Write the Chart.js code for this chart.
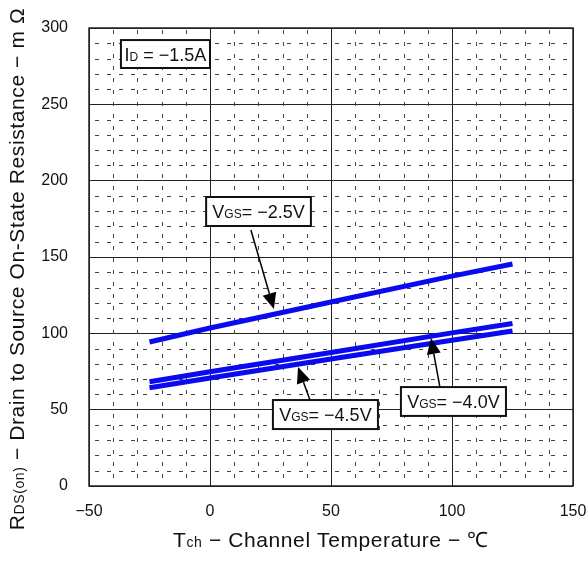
<!DOCTYPE html>
<html>
<head>
<meta charset="utf-8">
<script src="https://cdn.jsdelivr.net/npm/chart.js@4/dist/chart.umd.min.js"></script>
<style>
  html, body { margin: 0; padding: 0; background: #fff; }
  #wrap { width: 588px; height: 581px; position: relative; }
</style>
</head>
<body>
<div id="wrap"><canvas id="chart"></canvas></div>
<script>
// channel temperature (°C) sample points
const temps = [-25, 0, 50, 100, 125];
// RDS(on) in mΩ for each gate voltage
const vgs25 = [94.3, 103.5, 120.5, 137.5, 145.4];
const vgs40 = [68.3, 74.8, 87.5, 100.3, 106.5];
const vgs45 = [64.4, 70.8, 83.2, 95.5, 101.5];

const xTicks = [-50, 0, 50, 100, 150];
const yTicks = [0, 50, 100, 150, 200, 250, 300];

const FONT = "'Liberation Sans', Arial, sans-serif";

// callout boxes (data units) with arrows pointing at the curves
const callouts = [
  { parts: [['I', 18], ['D', 12], [' = −1.5A', 18]], box: [-36.8, 292.1, 0.0, 273.8] },
  { parts: [['V', 18], ['GS', 12], ['= −2.5V', 18]], box: [-1.6, 189.3, 41.7, 170.3], arrow: [16.9, 167.7, 26.4, 115.9] },
  { parts: [['V', 18], ['GS', 12], ['= −4.5V', 18]], box: [26.0, 56.3, 69.4, 37.3], arrow: [41.3, 56.3, 36.4, 77.9] },
  { parts: [['V', 18], ['GS', 12], ['= −4.0V', 18]], box: [78.9, 64.8, 122.3, 45.9], arrow: [95.0, 64.8, 91.3, 96.9] }
];

// draw text made of runs with different font sizes on one baseline
function drawRuns(ctx, parts, x, y) {
  let cx = x;
  parts.forEach(p => {
    ctx.font = p[1] + 'px ' + FONT;
    ctx.fillText(p[0], cx, y);
    cx += ctx.measureText(p[0]).width;
  });
}
function runsWidth(ctx, parts) {
  let w = 0;
  parts.forEach(p => {
    ctx.font = p[1] + 'px ' + FONT;
    w += ctx.measureText(p[0]).width;
  });
  return w;
}

// dashed minor grid every 10 units
const minorGrid = {
  id: 'minorGrid',
  beforeDatasetsDraw(chart) {
    const { ctx, chartArea: a, scales: { x, y } } = chart;
    ctx.save();
    ctx.strokeStyle = '#444';
    ctx.lineWidth = 1;
    ctx.setLineDash([4, 8]);
    for (let v = -40; v < 150; v += 10) {
      if (v % 50 === 0) continue;
      const px = Math.round(x.getPixelForValue(v)) + 0.5;
      ctx.beginPath();
      ctx.moveTo(px, a.top + 2);
      ctx.lineTo(px, a.bottom);
      ctx.stroke();
    }
    for (let v = 10; v < 300; v += 10) {
      if (v % 50 === 0) continue;
      const py = Math.round(y.getPixelForValue(v)) + 0.5;
      ctx.beginPath();
      ctx.lineDashOffset = -6;
      ctx.moveTo(a.left, py);
      ctx.lineTo(a.right, py);
      ctx.stroke();
    }
    ctx.restore();
  }
};

// callouts, frame and axis titles
const decorations = {
  id: 'decorations',
  afterDatasetsDraw(chart) {
    const { ctx, chartArea: a, scales: { x, y } } = chart;
    ctx.save();

    // plot frame
    ctx.strokeStyle = '#222';
    ctx.lineWidth = 1.5;
    ctx.strokeRect(a.left, a.top, a.right - a.left, a.bottom - a.top);

    callouts.forEach(c => {
      if (c.arrow) {
        const x1 = x.getPixelForValue(c.arrow[0]), y1 = y.getPixelForValue(c.arrow[1]);
        const x2 = x.getPixelForValue(c.arrow[2]), y2 = y.getPixelForValue(c.arrow[3]);
        const ang = Math.atan2(y2 - y1, x2 - x1);
        const len = 16, half = 7;
        const bx = x2 - len * Math.cos(ang), by = y2 - len * Math.sin(ang);
        ctx.strokeStyle = '#000';
        ctx.lineWidth = 1.5;
        ctx.beginPath();
        ctx.moveTo(x1, y1);
        ctx.lineTo(bx, by);
        ctx.stroke();
        ctx.fillStyle = '#000';
        ctx.beginPath();
        ctx.moveTo(x2, y2);
        ctx.lineTo(bx + half * Math.sin(ang), by - half * Math.cos(ang));
        ctx.lineTo(bx - half * Math.sin(ang), by + half * Math.cos(ang));
        ctx.closePath();
        ctx.fill();
      }
      const l = x.getPixelForValue(c.box[0]), t = y.getPixelForValue(c.box[1]);
      const r = x.getPixelForValue(c.box[2]), b = y.getPixelForValue(c.box[3]);
      ctx.fillStyle = '#fff';
      ctx.fillRect(l, t, r - l, b - t);
      ctx.strokeStyle = '#111';
      ctx.lineWidth = 2;
      ctx.strokeRect(l, t, r - l, b - t);
      ctx.fillStyle = '#111';
      ctx.textBaseline = 'alphabetic';
      ctx.textAlign = 'left';
      const w = runsWidth(ctx, c.parts);
      drawRuns(ctx, c.parts, (l + r) / 2 - w / 2, (t + b) / 2 + 6.5);
    });

    // axis titles, slightly tracked out
    ctx.letterSpacing = '0.6px';
    const xParts = [['T', 21], ['ch', 14], [' − Channel Temperature − ℃', 21]];
    ctx.fillStyle = '#111';
    const xw = runsWidth(ctx, xParts);
    drawRuns(ctx, xParts, (a.left + a.right) / 2 - xw / 2, 547);

    const yParts = [['R', 21], ['DS(on)', 14], [' − Drain to Source On-State Resistance − m Ω', 21]];
    const yw = runsWidth(ctx, yParts);
    ctx.translate(24, 269);
    ctx.rotate(-Math.PI / 2);
    drawRuns(ctx, yParts, -yw / 2, 0);
    ctx.letterSpacing = '0px';
    ctx.restore();
  }
};

const lineStyle = {
  borderColor: '#0a0af0',
  borderWidth: 5,
  pointRadius: 0,
  tension: 0,
  fill: false
};

new Chart(document.getElementById('chart'), {
  type: 'line',
  data: {
    datasets: [
      Object.assign({ label: 'VGS = -2.5V', data: temps.map((t, i) => ({ x: t, y: vgs25[i] })) }, lineStyle),
      Object.assign({ label: 'VGS = -4.0V', data: temps.map((t, i) => ({ x: t, y: vgs40[i] })) }, lineStyle),
      Object.assign({ label: 'VGS = -4.5V', data: temps.map((t, i) => ({ x: t, y: vgs45[i] })) }, lineStyle)
    ]
  },
  options: {
    responsive: true,
    maintainAspectRatio: false,
    animation: false,
    layout: { padding: { left: 0, top: 28, right: 15, bottom: 0 } },
    plugins: { legend: { display: false }, tooltip: { enabled: false } },
    scales: {
      x: {
        type: 'linear',
        min: xTicks[0],
        max: xTicks[xTicks.length - 1],
        afterBuildTicks: s => { s.ticks = xTicks.map(v => ({ value: v })); },
        // fixed axis band; label overhang is covered by the layout padding
        afterFit: s => { s.height = 95; s.paddingLeft = 0; s.paddingRight = 0; },
        grid: { color: '#222', lineWidth: 1, drawTicks: false },
        border: { display: false },
        ticks: {
          color: '#111',
          padding: 16,
          maxRotation: 0,
          font: { family: FONT, size: 16 },
          callback: v => String(v).replace('-', '−')
        }
      },
      y: {
        type: 'linear',
        min: 0,
        max: 300,
        afterBuildTicks: s => { s.ticks = yTicks.map(v => ({ value: v })); },
        afterFit: s => { s.width = 89; s.paddingTop = 0; s.paddingBottom = 0; },
        grid: { color: '#222', lineWidth: 1, drawTicks: false },
        border: { display: false },
        ticks: {
          color: '#111',
          padding: 21,
          font: { family: FONT, size: 16 }
        }
      }
    }
  },
  plugins: [minorGrid, decorations]
});
</script>
</body>
</html>
